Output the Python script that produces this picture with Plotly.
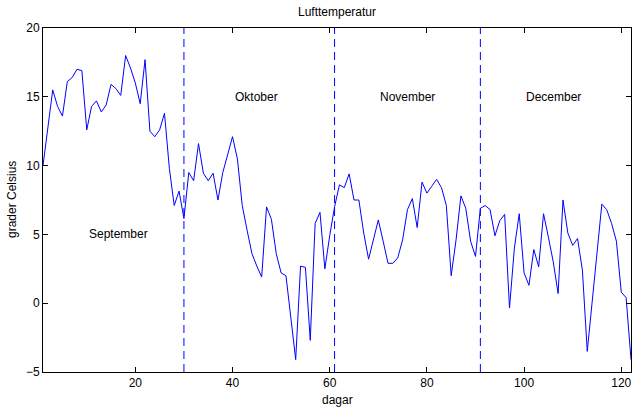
import plotly.graph_objects as go

temps = [
    10.0, 12.9, 15.5, 14.3, 13.6, 16.1, 16.4, 17.0, 16.9, 12.6,
    14.3, 14.7, 13.9, 14.4, 15.9, 15.6, 15.1, 18.0, 17.1, 16.0,
    14.5, 17.7, 12.5, 12.1, 12.6, 13.8, 9.8, 7.1, 8.15, 6.15,
    9.5, 8.9, 11.6, 9.45, 8.9, 9.45, 7.5, 9.5, 10.8, 12.1,
    10.5, 7.1, 5.3, 3.6, 2.7, 1.9, 7.0, 6.1, 3.6, 2.2,
    2.0, -1.0, -4.1, 2.7, 2.6, -2.7, 5.8, 6.6, 2.5, 4.9,
    7.0, 8.6, 8.4, 9.4, 7.5, 7.5, 5.1, 3.2, 4.6, 6.05,
    4.5, 2.9, 2.9, 3.3, 4.6, 6.8, 7.6, 5.5, 8.8, 8.0,
    8.5, 9.0, 8.4, 7.1, 2.0, 4.6, 7.8, 6.9, 4.5, 3.4,
    6.9, 7.1, 6.8, 4.9, 6.0, 6.45, -0.35, 4.0, 6.5, 2.2,
    1.3, 3.9, 2.65, 6.5, 4.8, 3.0, 0.7, 7.5, 5.1, 4.2,
    4.7, 2.4, -3.5, 0.0, 3.6, 7.2, 6.8, 5.8, 4.5, 0.8,
    0.4, -4.1,
]
days = list(range(1, len(temps) + 1))

month_bounds = [30, 61, 91]
month_names = ["September", "Oktober", "November", "December"]
month_label_x = [10, 40, 70, 100]
month_label_y = [5, 15, 15, 15]

x_ticks = [20, 40, 60, 80, 100, 120]
y_ticks = [-5, 0, 5, 10, 15, 20]
x_range = [1, 122]
y_range = [-5, 20]

FONT = "Liberation Sans, Arial, Helvetica, sans-serif"

fig = go.Figure()
fig.add_trace(go.Scatter(x=days, y=temps, mode="lines",
                         line=dict(color="#0000ff", width=1),
                         showlegend=False, hoverinfo="x+y"))
for b in month_bounds:
    fig.add_trace(go.Scatter(x=[b, b], y=y_range, mode="lines",
                             line=dict(color="#0000ff", width=1, dash="8px,5px"),
                             showlegend=False, hoverinfo="skip"))

annotations = []
for name, mx, my in zip(month_names, month_label_x, month_label_y):
    annotations.append(dict(x=mx, y=my, xref="x", yref="y", text=name,
                            showarrow=False, xanchor="left", yanchor="middle",
                            font=dict(family=FONT, size=12, color="black")))
annotations.append(dict(x=0.5, y=1, xref="paper", yref="paper", text="Lufttemperatur",
                        showarrow=False, xanchor="center", yanchor="bottom", yshift=7,
                        font=dict(family=FONT, size=12, color="black")))
annotations.append(dict(x=0.5, y=0, xref="paper", yref="paper", text="dagar",
                        showarrow=False, xanchor="center", yanchor="top", yshift=-19,
                        font=dict(family=FONT, size=12, color="black")))
annotations.append(dict(x=0, y=0.5, xref="paper", yref="paper", text="grader Celsius",
                        showarrow=False, xanchor="right", yanchor="middle", xshift=-22,
                        textangle=-90,
                        font=dict(family=FONT, size=12, color="black")))

axis_common = dict(showgrid=False, zeroline=False, showline=True, linecolor="black",
                   linewidth=1, mirror="ticks", ticks="inside", ticklen=5,
                   tickcolor="black", tickwidth=1,
                   tickfont=dict(family=FONT, size=12, color="black"))

fig.update_layout(
    width=634, height=407,
    margin=dict(l=43, r=3, t=28, b=35),
    paper_bgcolor="white", plot_bgcolor="white",
    xaxis=dict(range=x_range, tickvals=x_ticks, ticktext=[str(v) for v in x_ticks],
               **axis_common),
    yaxis=dict(range=y_range, tickvals=y_ticks,
               ticktext=["\u22125" if v < 0 else str(v) for v in y_ticks],
               **axis_common),
    annotations=annotations,
)

fig.write_html("out.html")
